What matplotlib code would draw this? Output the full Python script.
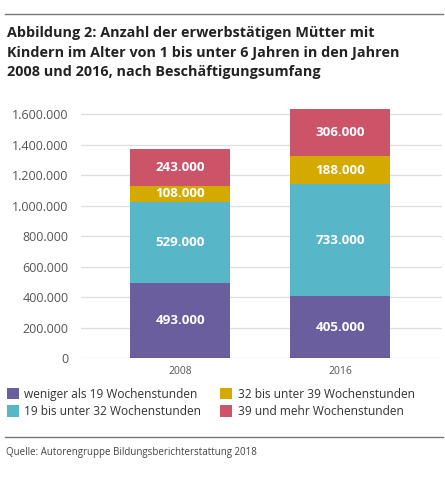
import matplotlib
matplotlib.use("Agg")
import matplotlib.pyplot as plt
from matplotlib.lines import Line2D
from matplotlib.patches import Patch
import numpy as np

# ---------------------------------------------------------------------------
# Data
# ---------------------------------------------------------------------------

years = ["2008", "2016"]
series_names = [
    "weniger als 19 Wochenstunden",
    "19 bis unter 32 Wochenstunden",
    "32 bis unter 39 Wochenstunden",
    "39 und mehr Wochenstunden",
]
under_19 = [493000, 405000]
from_19_to_32 = [529000, 733000]
from_32_to_39 = [108000, 188000]
over_39 = [243000, 306000]

colors = ["#6a5e9e", "#58b6c9", "#d4a900", "#cc5468"]

title = ("Abbildung 2: Anzahl der erwerbstätigen Mütter mit\n"
         "Kindern im Alter von 1 bis unter 6 Jahren in den Jahren\n"
         "2008 und 2016, nach Beschäftigungsumfang")
source = "Quelle: Autorengruppe Bildungsberichterstattung 2018"


def fmt(v):
    return f"{v:,.0f}".replace(",", ".")


plt.rcParams["font.family"] = ["Open Sans", "DejaVu Sans"]

fig = plt.figure(figsize=(4.45, 4.8), dpi=100)
W, H = 445, 480

# rules
fig.add_artist(Line2D([5 / W, 443 / W], [1 - 14 / H, 1 - 14 / H],
                      color="#777777", lw=1.0))
fig.add_artist(Line2D([5 / W, 443 / W], [1 - 437 / H, 1 - 437 / H],
                      color="#777777", lw=1.0))

fig.text(7 / W, 1 - 26 / H, title, ha="left", va="top", fontsize=10.4,
         fontweight="bold", color="#222222", linespacing=1.5)
fig.text(6 / W, 1 - 452 / H, source, ha="left", va="center", fontsize=7,
         color="#444444")

ax = fig.add_axes([81 / W, 1 - 358 / H, 361 / W, 251.6 / H])

x = np.arange(len(years))
stack = [under_19, from_19_to_32, from_32_to_39, over_39]
bottom = np.zeros(len(years))
for vals, col, name in zip(stack, colors, series_names):
    bars = ax.bar(x, vals, bottom=bottom, width=0.625, color=col,
                  label=name, zorder=3)
    for b, v, bt in zip(bars, vals, bottom):
        ax.text(b.get_x() + b.get_width() / 2, bt + v / 2, fmt(v),
                ha="center", va="center", color="white", fontsize=9.6,
                fontweight="bold", zorder=4)
    bottom += np.array(vals)

ax.set_xlim(-0.62, 1.635)
ax.set_ylim(0, 1650000)
yt = np.arange(0, 1600001, 200000)
ax.set_yticks(yt)
ax.set_yticklabels([fmt(v) for v in yt])
ax.set_xticks(x)
ax.set_xticklabels(years)
ax.tick_params(axis="y", length=0, pad=9, labelsize=9, labelcolor="#555555")
ax.tick_params(axis="x", length=0, pad=6, labelsize=7.5, labelcolor="#555555")
for s in ax.spines.values():
    s.set_visible(False)
for v in yt:
    ax.axhline(v, color="#dddddd", lw=0.9, zorder=1)

handles = [Patch(facecolor=c, edgecolor="none") for c in colors]
fig.legend(handles, series_names, loc="upper left", ncol=2,
           bbox_to_anchor=(2 / W, 1 - 383 / H), frameon=False,
           fontsize=8.6, handlelength=1.0, handleheight=1.1,
           handletextpad=0.45, columnspacing=1.6, labelspacing=0.35,
           labelcolor="#333333", borderaxespad=0)

fig.savefig("out.png", dpi=100)
